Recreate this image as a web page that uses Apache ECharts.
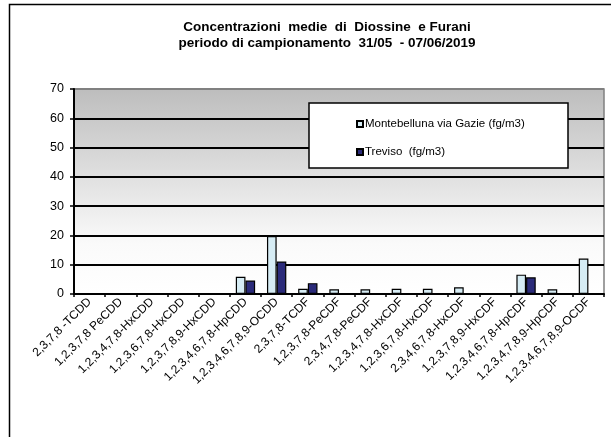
<!DOCTYPE html>
<html>
<head>
<meta charset="utf-8">
<script src="https://cdn.jsdelivr.net/npm/echarts@6/dist/echarts.min.js"></script>
<style>
  html, body { margin: 0; padding: 0; background: #fff; }
  #chart { width: 611px; height: 437px; }
</style>
</head>
<body>
<div id="chart"></div>
<script>
// Congeners sampled (PCDD / PCDF)
const categories = [
  '2,3,7,8 -TCDD', '1,2,3,7,8 PeCDD', '1,2,3,4,7,8-HxCDD', '1,2,3,6,7,8-HxCDD',
  '1,2,3,7,8,9-HxCDD', '1,2,3,4,6,7,8-HpCDD', '1,2,3,4,6,7,8,9-OCDD', '2,3,7,8-TCDF',
  '1,2,3,7,8-PeCDF', '2,3,4,7,8-PeCDF', '1,2,3,4,7,8-HxCDF', '1,2,3,6,7,8-HxCDF',
  '2,3,4,6,7,8-HxCDF', '1,2,3,7,8,9-HxCDF', '1,2,3,4,6,7,8-HpCDF', '1,2,3,4,7,8,9-HpCDF',
  '1,2,3,4,6,7,8,9-OCDF'
];
const seriesNames = ['Montebelluna via Gazie (fg/m3)', 'Treviso  (fg/m3)'];
const montebelluna = [0, 0, 0, 0, 0, 5.9, 19.8, 1.8, 1.6, 1.6, 1.8, 1.8, 2.3, 0, 6.6, 1.6, 12.1];
const treviso      = [0, 0, 0, 0, 0, 4.6, 11.1, 3.7, 0, 0, 0, 0, 0, 0, 5.7, 0, 0];
const yTicks = { min: 0, max: 70, step: 10 };
const titleLines = ['Concentrazioni  medie  di  Diossine  e Furani', 'periodo di campionamento  31/05  - 07/06/2019'];

const FONT = 'Liberation Sans, Arial, sans-serif';
const chart = echarts.init(document.getElementById('chart'), null, { renderer: 'canvas' });

const splitColors = [];
for (let v = yTicks.min; v <= yTicks.max; v += yTicks.step) {
  splitColors.push(v === yTicks.max ? '#808080' : '#000000');
}

chart.setOption({
  backgroundColor: '#ffffff',
  animation: false,
  graphic: [
    // outer frame (left and top edges)
    { type: 'polyline', shape: { points: [[9.5, 437], [9.5, 4.5], [611, 4.5]] },
      style: { stroke: '#000', lineWidth: 1.5, fill: null }, z: 10 },
    // chart title
    { type: 'text', x: 327, y: 19, z: 10,
      style: { text: titleLines.join('\n'), font: 'bold 13.5px ' + FONT, fill: '#000',
               align: 'center', textAlign: 'center', lineHeight: 16.5 } },
    // legend frame
    { type: 'rect', shape: { x: 309, y: 103, width: 259, height: 65 },
      style: { fill: '#fff', stroke: '#000', lineWidth: 1.5 }, z: 5 }
  ],
  legend: {
    orient: 'vertical',
    left: 351, top: 113,
    itemGap: 16,
    itemWidth: 6, itemHeight: 6,
    icon: 'rect',
    z: 6,
    textStyle: { fontFamily: FONT, fontSize: 11.5, color: '#000', padding: [0, 0, 0, -3] },
    data: seriesNames
  },
  grid: {
    left: 74, right: 7, top: 89, bottom: 143,
    show: true,
    borderColor: '#808080', borderWidth: 1.5,
    backgroundColor: {
      type: 'linear', x: 0, y: 0, x2: 0, y2: 1,
      colorStops: [
        { offset: 0, color: '#bdbdbd' },
        { offset: 0.75, color: '#fafafa' },
        { offset: 1, color: '#ffffff' }
      ]
    }
  },
  xAxis: {
    type: 'category',
    data: categories,
    axisLine: { lineStyle: { color: '#000', width: 2 } },
    axisTick: { show: true, interval: 0, length: 3, lineStyle: { color: '#000', width: 1.5 } },
    axisLabel: { interval: 0, rotate: 45, fontFamily: FONT, fontSize: 12, color: '#000', margin: 6 },
    splitLine: { show: false }
  },
  yAxis: {
    type: 'value',
    min: yTicks.min, max: yTicks.max, interval: yTicks.step,
    axisLine: { show: true, lineStyle: { color: '#000', width: 2 } },
    axisTick: { show: true, inside: false, length: 4, lineStyle: { color: '#000', width: 1.5 } },
    axisLabel: { fontFamily: FONT, fontSize: 12.5, color: '#000', margin: 10 },
    splitLine: { show: true, lineStyle: { color: splitColors, width: 1.8 } }
  },
  series: [
    {
      name: seriesNames[0], type: 'bar', data: montebelluna,
      barGap: '0%', barCategoryGap: '38%',
      itemStyle: { color: '#d6ecf4', borderColor: '#000', borderWidth: 1.2 }
    },
    {
      name: seriesNames[1], type: 'bar', data: treviso,
      itemStyle: { color: '#2b2b7a', borderColor: '#000', borderWidth: 1.2 }
    }
  ]
});
</script>
</body>
</html>
